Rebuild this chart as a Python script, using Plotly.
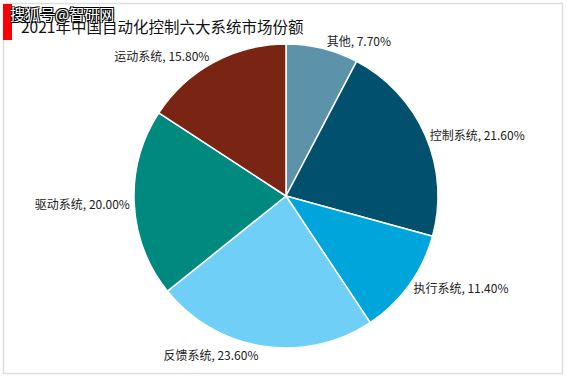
import plotly.graph_objects as go

labels = ["其他", "控制系统", "执行系统", "反馈系统", "驱动系统", "运动系统"]
values = [7.70, 21.60, 11.40, 23.60, 20.00, 15.80]
colors = ["#5C93AB", "#01506E", "#00A6DB", "#6FCFF6", "#008A7F", "#7A2413"]
title = "2021年中国自动化控制六大系统市场份额"
watermark = "搜狐号@智研网"

W, H = 567, 378
fig = go.Figure(go.Pie(
    labels=labels,
    values=values,
    sort=False,
    direction="clockwise",
    rotation=0,
    marker=dict(colors=colors, line=dict(color="white", width=1.5)),
    texttemplate="%{label}, %{value:.2f}%",
    textposition="outside",
    outsidetextfont=dict(size=12, color="#222222"),
    domain=dict(x=[134 / W, 438 / W], y=[1 - 348 / H, 1 - 44 / H]),
    showlegend=False,
    hoverinfo="label+value",
))

fig.update_layout(
    width=W, height=H,
    margin=dict(l=0, r=0, t=0, b=0),
    paper_bgcolor="white",
    font=dict(family="Noto Sans CJK SC, sans-serif", size=12, color="#222222"),
    shapes=[
        dict(type="rect", xref="paper", yref="paper",
             x0=3.5 / W, x1=562.5 / W, y0=1 - 373.5 / H, y1=1 - 3.5 / H,
             line=dict(color="#DDDDDD", width=1.5), fillcolor="rgba(0,0,0,0)"),
        dict(type="rect", xref="paper", yref="paper",
             x0=3 / W, x1=12 / W, y0=1 - 40 / H, y1=1 - 4 / H,
             line=dict(width=0), fillcolor="#FF0000"),
    ],
    annotations=[
        dict(text=title, xref="paper", yref="paper", x=19 / W, y=1 - 26 / H,
             xanchor="left", yanchor="middle", showarrow=False,
             font=dict(size=15.5, color="#111111")),
        dict(text=watermark, xref="paper", yref="paper", x=8 / W, y=1 - 13 / H,
             xanchor="left", yanchor="middle", showarrow=False,
             font=dict(size=15, color="white",
                       shadow="1px 1px 0 #000, -1px -1px 0 #000, 1px -1px 0 #000, -1px 1px 0 #000")),
    ],
)

fig.write_html("out.html", config={"displayModeBar": False},
               post_script="document.body.style.margin='0';")
